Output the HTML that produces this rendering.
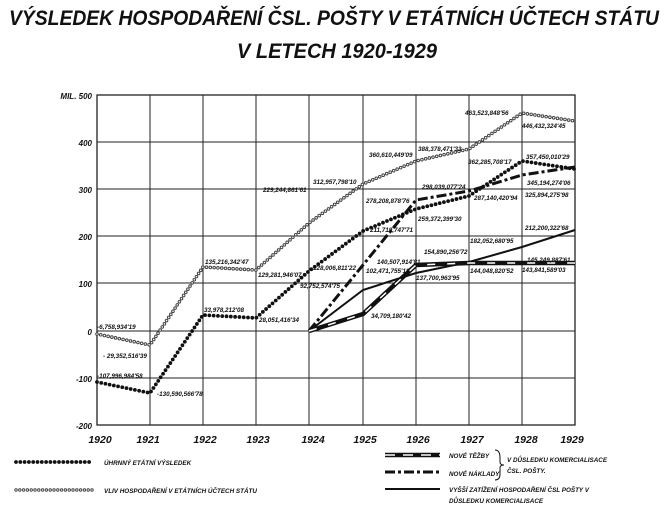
<!DOCTYPE html>
<html><head><meta charset="utf-8"><style>
body{margin:0;background:#fff}
svg{display:block}
text{font-family:"Liberation Sans",sans-serif;font-style:italic;font-weight:bold;fill:#111}
.l{font-size:6.3px}
.t{font-size:8px}
</style></head><body>
<svg width="669" height="513" viewBox="0 0 669 513" xmlns="http://www.w3.org/2000/svg">
<text x="334" y="25" text-anchor="middle" font-size="21" textLength="650" lengthAdjust="spacingAndGlyphs">VÝSLEDEK HOSPODAŘENÍ ČSL. POŠTY V ETÁTNÍCH ÚČTECH STÁTU</text>
<text x="337" y="58" text-anchor="middle" font-size="21" textLength="200" lengthAdjust="spacingAndGlyphs">V LETECH 1920-1929</text>
<g stroke="#222" stroke-width="1" fill="none">
<rect x="97" y="95" width="478" height="330" stroke-width="1.3"/>
<line x1="97" y1="142" x2="575" y2="142"/><line x1="97" y1="189" x2="575" y2="189"/>
<line x1="97" y1="236" x2="575" y2="236"/><line x1="97" y1="283" x2="575" y2="283"/>
<line x1="97" y1="331" x2="575" y2="331"/><line x1="97" y1="378" x2="575" y2="378"/>
<line x1="150" y1="95" x2="150" y2="425"/><line x1="203" y1="95" x2="203" y2="425"/>
<line x1="256" y1="95" x2="256" y2="425"/><line x1="309" y1="95" x2="309" y2="425"/>
<line x1="363" y1="95" x2="363" y2="425"/><line x1="416" y1="95" x2="416" y2="425"/>
<line x1="469" y1="95" x2="469" y2="425"/><line x1="522" y1="95" x2="522" y2="425"/>
</g>
<g class="t" text-anchor="end">
<text x="92" y="99">MIL. 500</text><text x="92" y="146">400</text><text x="92" y="193">300</text>
<text x="92" y="240">200</text><text x="92" y="287">100</text><text x="92" y="335">0</text>
<text x="92" y="382">-100</text><text x="92" y="429">-200</text>
</g>
<g font-size="10.5" text-anchor="middle">
<text x="100" y="443">1920</text><text x="148" y="443">1921</text><text x="205" y="443">1922</text>
<text x="258" y="443">1923</text><text x="313" y="443">1924</text><text x="365" y="443">1925</text>
<text x="418" y="443">1926</text><text x="472" y="443">1927</text><text x="526" y="443">1928</text>
<text x="572" y="443">1929</text>
</g>
<!-- series -->
<polyline points="97,334 150,345 203,267 256,270 309,223 363,184 416,161 469,149 522,113 575,121" fill="none" stroke="#444" stroke-width="3.6" stroke-linecap="round" stroke-dasharray="0 3.8"/>
<polyline points="97,334 150,345 203,267 256,270 309,223 363,184 416,161 469,149 522,113 575,121" fill="none" stroke="#fff" stroke-width="1.6" stroke-linecap="round" stroke-dasharray="0 3.8"/>
<polyline points="97,382 150,393 203,315 256,318 309,271 363,231 416,209 469,196 522,161 575,169" fill="none" stroke="#111" stroke-width="3.8" stroke-linecap="round" stroke-dasharray="0 4.3"/>
<polyline points="309,331 363,265 416,200 469,191 522,175 575,167" fill="none" stroke="#111" stroke-width="3" stroke-dasharray="10 3 3 3"/>
<polyline points="309,331 363,290 416,273 469,262 522,247 575,230" fill="none" stroke="#111" stroke-width="2"/>
<polyline points="309,331 363,314 416,265 469,263 522,263 575,263" fill="none" stroke="#111" stroke-width="4.5"/>
<polyline points="309,331 363,314 416,265 469,263 522,263 575,263" fill="none" stroke="#fff" stroke-width="1.5" stroke-dasharray="8 12"/>
<g class="l">
<text x="97" y="329">-6,758,934'19</text><text x="103" y="358">- 29,352,516'39</text>
<text x="97" y="378">-107,996,984'58</text><text x="157" y="396">-130,590,566'78</text>
<text x="205" y="264">135,216,342'47</text><text x="204" y="312">33,978,212'08</text>
<text x="259" y="322">28,051,416'34</text><text x="258" y="277">129,281,946'07</text>
<text x="313" y="270">128,006,811'22</text><text x="263" y="192">229,244,861'61</text>
<text x="465" y="115">463,523,848'56</text><text x="522" y="128">446,432,324'45</text>
<text x="418" y="151">388,378,471'33</text><text x="369" y="157">360,610,449'09</text>
<text x="468" y="164">362,285,708'17</text><text x="526" y="159">357,450,010'29</text>
<text x="313" y="184">312,957,798'10</text><text x="422" y="189">298,039,077'24</text>
<text x="527" y="185">345,194,274'06</text><text x="366" y="203">278,208,878'76</text>
<text x="474" y="200">287,140,420'94</text><text x="525" y="197">325,894,275'98</text>
<text x="418" y="221">259,372,399'30</text><text x="370" y="232">211,719,747'71</text>
<text x="525" y="230">212,200,322'68</text><text x="470" y="243">182,052,680'95</text>
<text x="424" y="254">154,890,256'72</text><text x="377" y="264">140,507,914'81</text>
<text x="527" y="262">145,249,887'61</text><text x="366" y="273">102,471,755'18</text>
<text x="470" y="273">144,048,820'52</text><text x="522" y="272">143,841,589'03</text>
<text x="416" y="280">137,700,963'95</text><text x="300" y="288">92,752,574'75</text>
<text x="371" y="318">34,709,180'42</text>
</g>
<!-- legend -->
<line x1="16" y1="462" x2="92" y2="462" stroke="#111" stroke-width="3.8" stroke-linecap="round" stroke-dasharray="0 4.3"/>
<line x1="16" y1="490" x2="92" y2="490" stroke="#444" stroke-width="3.4" stroke-linecap="round" stroke-dasharray="0 3.8"/>
<line x1="16" y1="490" x2="92" y2="490" stroke="#fff" stroke-width="1.5" stroke-linecap="round" stroke-dasharray="0 3.8"/>
<line x1="385" y1="455" x2="440" y2="455" stroke="#111" stroke-width="4.5"/>
<line x1="385" y1="455" x2="440" y2="455" stroke="#fff" stroke-width="1.5" stroke-dasharray="10 8"/>
<line x1="385" y1="472" x2="440" y2="472" stroke="#111" stroke-width="3" stroke-dasharray="10 3 3 3"/>
<line x1="385" y1="489" x2="440" y2="489" stroke="#111" stroke-width="2"/>
<path d="M495,450 Q500,450 500,458 L500,462 Q500,465 504,465 Q500,465 500,468 L500,474 Q500,480 495,480" fill="none" stroke="#111"/>
<g class="l">
<text x="104" y="465">ÚHRNNÝ ETÁTNÍ VÝSLEDEK</text>
<text x="104" y="493">VLIV HOSPODAŘENÍ V ETÁTNÍCH ÚČTECH STÁTU</text>
<text x="449" y="458">NOVÉ TĚŽBY</text>
<text x="449" y="476">NOVÉ NÁKLADY</text>
<text x="507" y="462">V DŮSLEDKU KOMERCIALISACE</text>
<text x="507" y="473">ČSL. POŠTY.</text>
<text x="449" y="492">VYŠŠÍ ZATÍŽENÍ HOSPODAŘENÍ ČSL POŠTY V</text>
<text x="449" y="503">DŮSLEDKU KOMERCIALISACE</text>
</g>
</svg>
</body></html>
